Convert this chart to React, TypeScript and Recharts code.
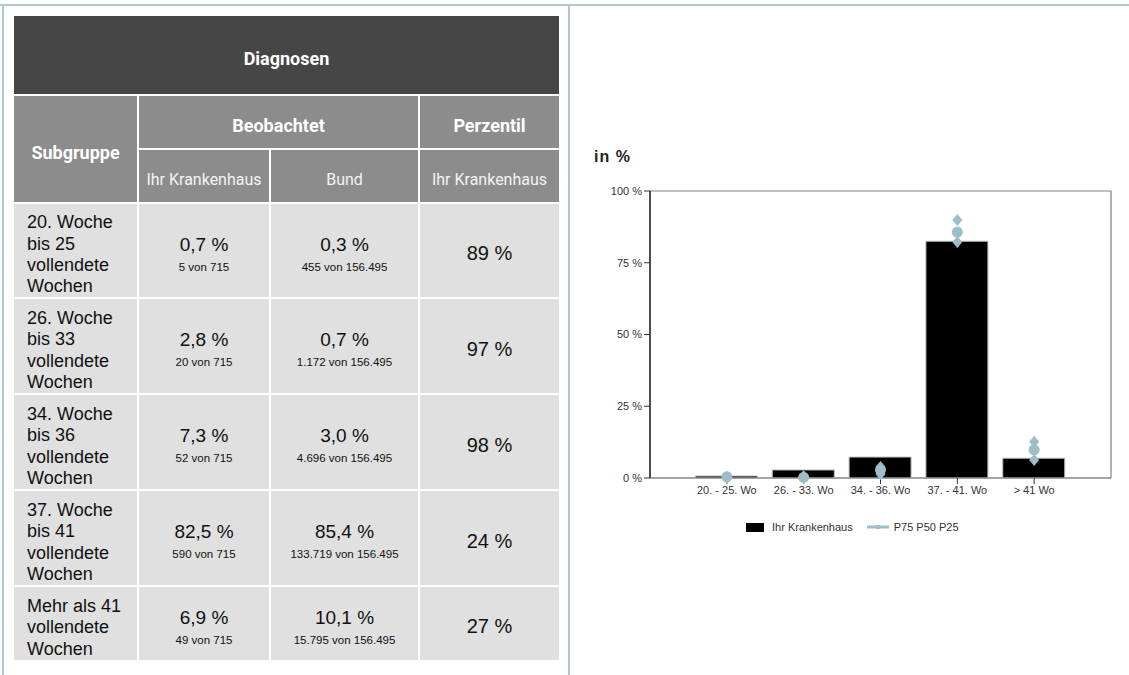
import React from "react";
import { ComposedChart, Bar, Line, XAxis, YAxis, ReferenceArea, ReferenceLine } from "recharts";

// chart values
const categories = ["20. - 25. Wo", "26. - 33. Wo", "34. - 36. Wo", "37. - 41. Wo", "> 41 Wo"];
const krankenhaus = [0.7, 2.8, 7.3, 82.5, 6.9];
const p75 = [0.4, 0.6, 3.8, 89.9, 12.6];
const p50 = [0.4, 0.2, 2.8, 85.7, 9.8];
const p25 = [0.0, 0.0, 1.4, 82.2, 6.3];
const yTicks = [0, 25, 50, 75, 100];
const xTicks = [1, 2, 3, 4, 5];

// table texts
const subgruppen = [
  ["20. Woche", "bis 25", "vollendete", "Wochen"],
  ["26. Woche", "bis 33", "vollendete", "Wochen"],
  ["34. Woche", "bis 36", "vollendete", "Wochen"],
  ["37. Woche", "bis 41", "vollendete", "Wochen"],
  ["Mehr als 41", "vollendete", "Wochen"],
];
const hausRate = ["0,7 %", "2,8 %", "7,3 %", "82,5 %", "6,9 %"];
const hausCount = ["5 von 715", "20 von 715", "52 von 715", "590 von 715", "49 von 715"];
const bundRate = ["0,3 %", "0,7 %", "3,0 %", "85,4 %", "10,1 %"];
const bundCount = [
  "455 von 156.495",
  "1.172 von 156.495",
  "4.696 von 156.495",
  "133.719 von 156.495",
  "15.795 von 156.495",
];
const perzentil = ["89 %", "97 %", "98 %", "24 %", "27 %"];

// categories sit on slots 1..5 of a 0..6 axis, like the original
const chartData = categories.map((name, i) => ({
  name,
  pos: i + 1,
  haus: krankenhaus[i],
  p75: p75[i],
  p50: p50[i],
  p25: p25[i],
}));

const MARK = "#9dbec8";
const FRAME = "#adc8cf";
const HEAD_FONT = "Roboto, 'Liberation Sans', sans-serif";
const BODY_FONT = "'Liberation Sans', Arial, sans-serif";

const diamond = (props: any) => {
  const { cx, cy, index, dataKey } = props;
  if (cx == null || cy == null) return <g key={`e-${dataKey}-${index}`} />;
  return (
    <path
      key={`d-${dataKey}-${index}`}
      d={`M${cx},${cy - 6} L${cx + 5},${cy} L${cx},${cy + 6} L${cx - 5},${cy} Z`}
      fill={MARK}
    />
  );
};

const circle = (props: any) => {
  const { cx, cy, index, dataKey } = props;
  if (cx == null || cy == null) return <g key={`e-${dataKey}-${index}`} />;
  return <circle key={`c-${dataKey}-${index}`} cx={cx} cy={cy} r={5.5} fill={MARK} />;
};

const cell = (bg: string): React.CSSProperties => ({
  background: bg,
  display: "flex",
  alignItems: "center",
  justifyContent: "center",
  textAlign: "center",
  boxSizing: "border-box",
  paddingTop: 6,
  whiteSpace: "nowrap",
});

const headBold: React.CSSProperties = {
  color: "#fff",
  fontFamily: HEAD_FONT,
  fontWeight: 700,
  fontSize: 18,
};

function DiagnosenTable() {
  return (
    <div
      style={{
        position: "absolute",
        left: 14,
        top: 16,
        display: "grid",
        gridTemplateColumns: "123px 130px 147px 139px",
        gridTemplateRows: "78px 52px 52px 93px 94px 94px 94px 73px",
        gap: 2,
        background: "#fff",
      }}
    >
      <div style={{ ...cell("#464646"), ...headBold, gridColumn: "1 / 5" }}>Diagnosen</div>
      <div style={{ ...cell("#8c8c8c"), ...headBold, gridRow: "2 / 4" }}>Subgruppe</div>
      <div style={{ ...cell("#8c8c8c"), ...headBold, gridColumn: "2 / 4" }}>Beobachtet</div>
      <div style={{ ...cell("#8c8c8c"), ...headBold }}>Perzentil</div>
      {["Ihr Krankenhaus", "Bund", "Ihr Krankenhaus"].map((t, i) => (
        <div key={i} style={{ ...cell("#8c8c8c"), color: "#f4f4f4", fontFamily: HEAD_FONT, fontSize: 16 }}>
          {t}
        </div>
      ))}
      {subgruppen.map((lines, r) => (
        <React.Fragment key={r}>
          <div
            style={{
              ...cell("#e0e0e0"),
              justifyContent: "flex-start",
              textAlign: "left",
              paddingLeft: 13,
              paddingTop: 9,
              fontFamily: BODY_FONT,
              fontSize: 18,
              lineHeight: "21.3px",
              color: "#111",
            }}
          >
            <div>
              {lines.map((l, j) => (
                <div key={j}>{l}</div>
              ))}
            </div>
          </div>
          {[
            [hausRate[r], hausCount[r]],
            [bundRate[r], bundCount[r]],
          ].map(([rate, count], c) => (
            <div key={c} style={{ ...cell("#e0e0e0"), fontFamily: BODY_FONT, color: "#111" }}>
              <div>
                <div style={{ fontSize: 19, lineHeight: "22px" }}>{rate}</div>
                <div style={{ fontSize: 11.5, lineHeight: "14px", marginTop: 4 }}>{count}</div>
              </div>
            </div>
          ))}
          <div style={{ ...cell("#e0e0e0"), fontFamily: BODY_FONT, fontSize: 20, color: "#111" }}>
            {perzentil[r]}
          </div>
        </React.Fragment>
      ))}
    </div>
  );
}

function GeburtChart() {
  return (
    <>
      <div
        style={{
          position: "absolute",
          left: 594,
          top: 148,
          fontFamily: BODY_FONT,
          fontWeight: 700,
          fontSize: 16,
          letterSpacing: 1,
          color: "#222",
        }}
      >
        in %
      </div>
      <div style={{ position: "absolute", left: 580, top: 140 }}>
        <ComposedChart
          width={549}
          height={380}
          data={chartData}
          margin={{ top: 51, right: 18, left: 0, bottom: 12 }}
        >
          <XAxis
            dataKey="pos"
            type="number"
            domain={[0, 6]}
            ticks={xTicks}
            tickFormatter={(v: number) => categories[v - 1]}
            height={30}
            axisLine={{ stroke: "#8a8a8a", strokeWidth: 1 }}
            tickLine={{ stroke: "#333" }}
            tickSize={6}
            tick={{ fontSize: 11, fill: "#333", fontFamily: BODY_FONT }}
            interval={0}
          />
          <YAxis
            width={70}
            domain={[0, 100]}
            ticks={yTicks}
            tickFormatter={(v: number) => `${v} %`}
            axisLine={{ stroke: "#333", strokeWidth: 1 }}
            tickLine={{ stroke: "#333" }}
            tickSize={6}
            tick={{ fontSize: 11, fill: "#333", fontFamily: BODY_FONT }}
          />
          {/* plot frame */}
          <ReferenceArea x1={0} x2={6} y1={0} y2={100} fill="none" stroke="#808080" strokeWidth={1.2} ifOverflow="visible" />
          <ReferenceLine x={0} stroke="#333" strokeWidth={1.2} ifOverflow="visible" />
          <Bar dataKey="haus" fill="#000" stroke="#bdbdbd" strokeWidth={1} barSize={62} isAnimationActive={false} />
          <Line dataKey="p75" stroke="none" dot={diamond} activeDot={false} isAnimationActive={false} />
          <Line dataKey="p25" stroke="none" dot={diamond} activeDot={false} isAnimationActive={false} />
          <Line dataKey="p50" stroke="none" dot={circle} activeDot={false} isAnimationActive={false} />
        </ComposedChart>
      </div>
      {/* legend */}
      <div
        style={{
          position: "absolute",
          left: 746,
          top: 521,
          display: "flex",
          alignItems: "center",
          fontFamily: BODY_FONT,
          fontSize: 11,
          color: "#333",
        }}
      >
        <span style={{ display: "inline-block", width: 18, height: 9, background: "#000" }} />
        <span style={{ marginLeft: 8 }}>Ihr Krankenhaus</span>
        <svg width={22} height={10} style={{ marginLeft: 14 }}>
          <line x1={0} y1={5} x2={22} y2={5} stroke={MARK} strokeWidth={3} />
          <rect x={9} y={3} width={4} height={4} fill={MARK} />
        </svg>
        <span style={{ marginLeft: 5 }}>P75 P50 P25</span>
      </div>
    </>
  );
}

export default function App() {
  return (
    <div style={{ position: "relative", width: 1129, height: 675, background: "#fff", overflow: "hidden" }}>
      <style>{`body { margin: 0; }`}</style>
      <div style={{ position: "absolute", left: 0, top: 4, width: 1129, height: 2, background: FRAME }} />
      <div style={{ position: "absolute", left: 2, top: 4, width: 2, height: 671, background: FRAME }} />
      <div style={{ position: "absolute", left: 568, top: 4, width: 2, height: 671, background: FRAME }} />
      <DiagnosenTable />
      <GeburtChart />
    </div>
  );
}
